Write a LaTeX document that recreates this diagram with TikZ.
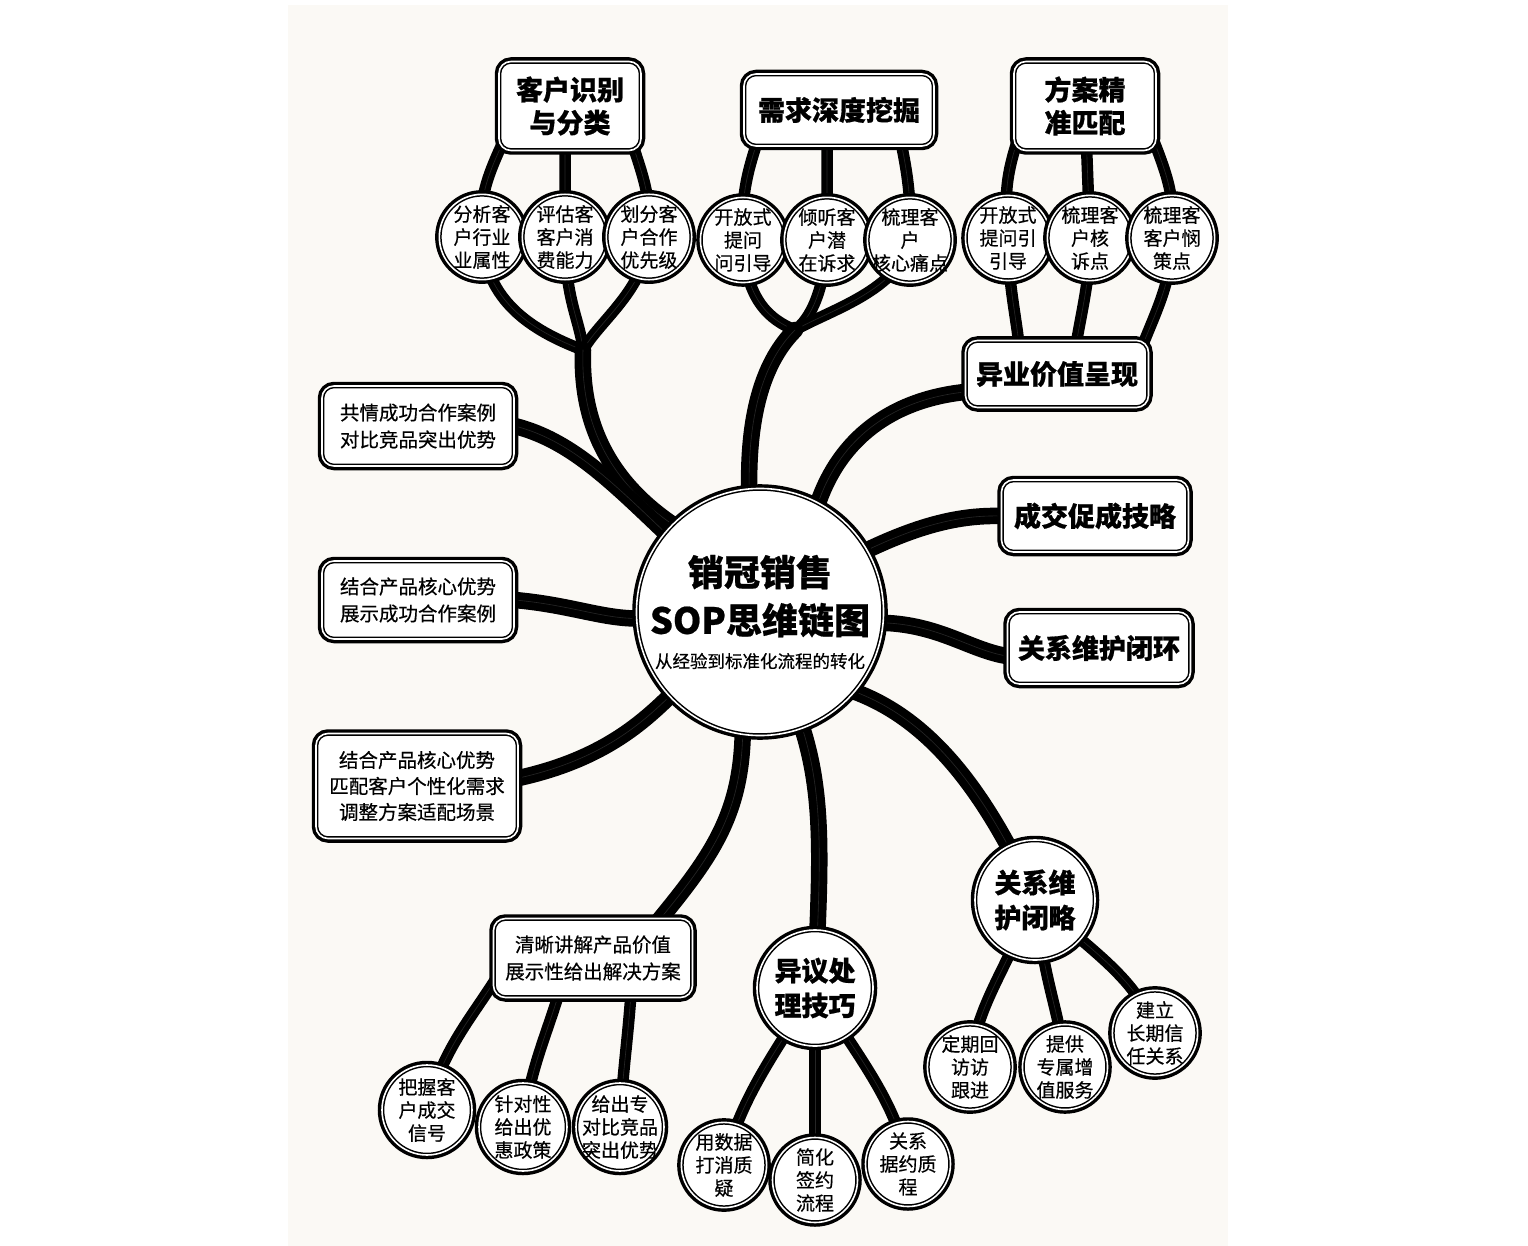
\documentclass[tikz,border=0pt]{standalone}
\usepackage{fontspec}
\setmainfont{Noto Sans CJK SC}[BoldFeatures={FakeBold=0.6}]
\newfontfamily\medf{Noto Sans CJK SC}[FakeBold=0.45]
\usetikzlibrary{calc}
\pgfdeclarelayer{paper}
\pgfdeclarelayer{lines}
\pgfsetlayers{paper,lines,main}
\definecolor{paperc}{HTML}{FBF9F5}
\begin{document}
\begin{tikzpicture}[x=1pt,y=-1pt,
  frame/.style={preaction={draw=black, line width=8.5pt}, draw=black, line width=1.5pt, double=white, double distance=1.6pt, fill=white, inner sep=0pt, align=center},
  box/.style={frame, rectangle, rounded corners=12pt},
  disc/.style={frame, circle},
  big/.style={font=\fontsize{27}{33}\selectfont\bfseries},
  mid/.style={font=\fontsize{19.5}{27}\selectfont\medf},
  small/.style={font=\fontsize{19}{23}\selectfont\medf},
  br/.style={draw=black, line width=16.5pt, line cap=round, postaction={draw=white, line width=0.6pt, opacity=0.15}},
  sbr/.style={draw=black, line width=11.5pt, line cap=round, postaction={draw=white, line width=0.6pt, opacity=0.15}},
]
\useasboundingbox (0,0) rectangle (1528,1246);
\begin{pgfonlayer}{paper}
\fill[white] (0,0) rectangle (1528,1246);
\fill[paperc] (288,5) rectangle (1228,1246);
\end{pgfonlayer}

% centre
\node[disc, minimum size=246pt, font=\fontsize{36}{48}\selectfont\bfseries] (c) at (760,612)
  {\fontsize{36}{48}\selectfont\bfseries 销冠销售\\ \fontsize{36}{48}\selectfont\bfseries SOP思维链图\\[-14pt] \fontsize{17.5}{22}\selectfont\mdseries\medf 从经验到标准化流程的转化};

% top boxes
\node[box, big, minimum width=142pt, minimum height=89pt] (g1) at (570,106) {客户识别\\与分类};
\node[box, big, minimum width=190pt, minimum height=72pt] (g2) at (839,110) {需求深度挖掘};
\node[box, big, minimum width=142pt, minimum height=89pt] (g3) at (1085,106) {方案精\\准匹配};
% small circles
\node[disc, small, minimum size=83pt] (s11) at (482,237) {分析客\\户行业\\业属性};
\node[disc, small, minimum size=83pt] (s12) at (565,237) {评估客\\客户消\\费能力};
\node[disc, small, minimum size=83pt] (s13) at (649,237) {划分客\\户合作\\优先级};
\node[disc, small, minimum size=83pt] (s21) at (743,240) {开放式\\提问\\问引导};
\node[disc, small, minimum size=83pt] (s22) at (827,240) {倾听客\\户潜\\在诉求};
\node[disc, small, minimum size=83pt] (s23) at (910,240) {梳理客\\户\\\makebox[3em][c]{核心痛点}};
\node[disc, small, minimum size=83pt] (s31) at (1008,238) {开放式\\提问引\\引导};
\node[disc, small, minimum size=83pt] (s32) at (1090,238) {梳理客\\户核\\诉点};
\node[disc, small, minimum size=83pt] (s33) at (1172,238) {梳理客\\客户悯\\策点};

% right boxes
\node[box, big, minimum width=183pt, minimum height=67pt] (r1) at (1057,374) {异业价值呈现};
\node[box, big, minimum width=187pt, minimum height=72pt] (r2) at (1095,516) {成交促成技略};
\node[box, big, minimum width=183pt, minimum height=72pt] (r3) at (1099,648) {关系维护闭环};

% left boxes
\node[box, mid, minimum width=192pt, minimum height=80pt] (b4) at (418,426) {共情成功合作案例\\对比竞品突出优势};
\node[box, mid, minimum width=192pt, minimum height=78pt] (b5) at (418,600) {结合产品核心优势\\展示成功合作案例};
\node[box, mid, minimum width=202pt, minimum height=105pt, font=\fontsize{19.5}{26}\selectfont\medf] (b6) at (417,786) {结合产品核心优势\\匹配客户个性化需求\\调整方案适配场景};
\node[box, mid, minimum width=199pt, minimum height=79pt] (q) at (593,958) {清晰讲解产品价值\\展示性给出解决方案};

% bottom circles
\node[disc, small, minimum size=90pt] (t1) at (427,1110) {把握客\\户成交\\信号};
\node[disc, small, minimum size=88pt] (t2) at (523,1127) {针对性\\给出优\\惠政策};
\node[disc, small, minimum size=88pt] (t3) at (620,1127) {给出专\\\makebox[3em][c]{对比竞品}\\\makebox[3em][c]{突出优势}};

\node[disc, big, font=\fontsize{27}{35}\selectfont\bfseries, minimum size=116pt] (y) at (815,988) {异议处\\理技巧};
\node[disc, small, minimum size=85pt] (u1) at (724,1165) {用数据\\打消质\\疑};
\node[disc, small, minimum size=85pt] (u2) at (815,1180) {简化\\签约\\流程};
\node[disc, small, minimum size=85pt] (u3) at (908,1164) {关系\\据约质\\程};

\node[disc, big, font=\fontsize{27}{35}\selectfont\bfseries, minimum size=120pt] (k) at (1035,900) {关系维\\护闭略};
\node[disc, small, minimum size=85pt] (v1) at (970,1067) {定期回\\访访\\跟进};
\node[disc, small, minimum size=85pt] (v2) at (1065,1067) {提供\\专属增\\值服务};
\node[disc, small, minimum size=85pt] (v3) at (1155,1033) {建立\\长期信\\任关系};

\begin{pgfonlayer}{lines}
% group 1
\coordinate (j1) at (583,350);
\draw[sbr] ($(g1.center)+(-50,0)$) .. controls (490,170) and (478,190) .. (s11.center) .. controls (485,300) and (530,330) .. (j1);
\draw[sbr] ($(g1.center)+(-5,0)$) -- (s12.center) .. controls (565,300) and (580,320) .. (j1);
\draw[sbr] ($(g1.center)+(50,0)$) .. controls (640,170) and (652,190) .. (s13.center) .. controls (645,290) and (600,320) .. (j1);
\draw[br] (j1) .. controls (580,430) and (615,485) .. (c.135);
\draw[br] (b4.east) .. controls (570,440) and (610,480) .. (c.140);
% group 2
\coordinate (j2) at (795,330);
\draw[sbr] ($(g2.center)+(-70,0)$) .. controls (750,160) and (740,190) .. (s21.center) .. controls (745,300) and (770,320) .. (j2);
\draw[sbr] ($(g2.center)+(-12,0)$) -- (s22.center) .. controls (825,290) and (810,320) .. (j2);
\draw[sbr] ($(g2.center)+(55,0)$) .. controls (905,160) and (912,190) .. (s23.center) .. controls (900,290) and (830,310) .. (j2);
\draw[br] (j2) .. controls (765,360) and (748,410) .. (c.95);
% group 3
\draw[sbr] ($(g3.center)+(-55,0)$) .. controls (1005,170) and (1004,190) .. (s31.center) .. controls (1008,290) and (1018,320) .. ($(r1.center)+(-35,0)$);
\draw[sbr] (g3.center) -- (s32.center) .. controls (1090,290) and (1078,320) .. ($(r1.center)+(15,0)$);
\draw[sbr] ($(g3.center)+(55,0)$) .. controls (1165,170) and (1176,190) .. (s33.center) .. controls (1172,290) and (1150,320) .. ($(r1.center)+(75,0)$);
\draw[br] ($(r1.west)+(0,18)$) .. controls (890,400) and (840,440) .. (c.62);
% right
\draw[br] (c.30) .. controls (920,525) and (960,515) .. (r2.west);
\draw[br] (c.-5) .. controls (940,625) and (970,650) .. ($(r3.west)+(0,8)$);
\draw[br] (c.-40) .. controls (930,720) and (985,790) .. (k.center);
\draw[br] (c.-70) .. controls (825,800) and (820,870) .. (y.center);
\draw[br] (c.262) .. controls (740,830) and (700,870) .. ($(q.center)+(35,0)$);
% left
\draw[br] (b5.east) .. controls (570,605) and (600,618) .. (c.183);
\draw[br] ($(b6.east)+(0,-8)$) .. controls (600,760) and (640,725) .. (c.223);
% bottom left
\draw[sbr] ($(q.center)+(-85,0)$) .. controls (480,1010) and (445,1040) .. (t1.center);
\draw[sbr] ($(q.center)+(-25,0)$) .. controls (555,1020) and (530,1060) .. (t2.center);
\draw[sbr] ($(q.center)+(40,0)$) .. controls (630,1030) and (622,1070) .. (t3.center);
% objection
\draw[sbr] (y.center) .. controls (770,1060) and (740,1100) .. (u1.center);
\draw[sbr] (y.center) -- (u2.center);
\draw[sbr] (y.center) .. controls (860,1060) and (895,1100) .. (u3.center);
% relation
\draw[sbr] (k.center) .. controls (1000,980) and (975,1010) .. (v1.center);
\draw[sbr] (k.center) .. controls (1045,990) and (1060,1010) .. (v2.center);
\draw[sbr] (k.center) .. controls (1090,950) and (1140,980) .. (v3.center);
\end{pgfonlayer}
\end{tikzpicture}
\end{document}
